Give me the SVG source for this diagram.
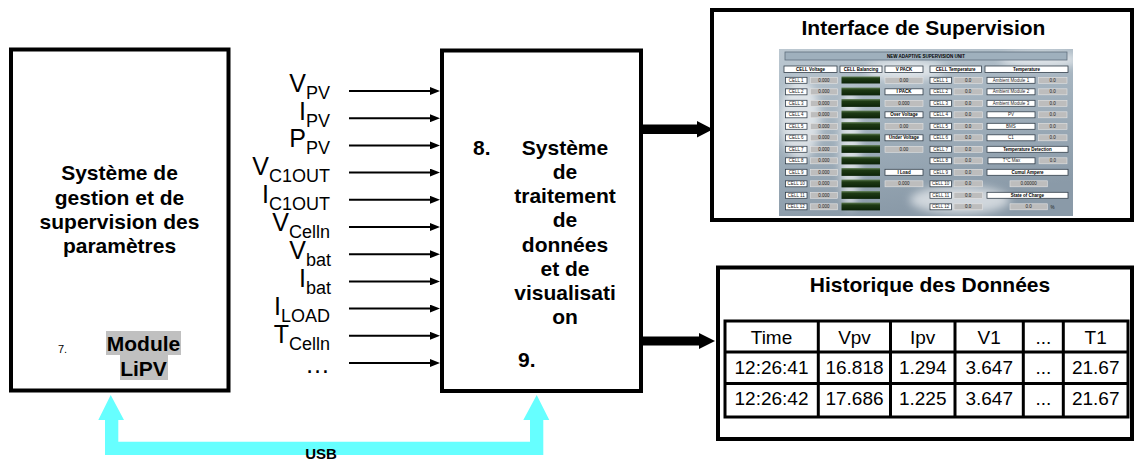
<svg xmlns="http://www.w3.org/2000/svg" width="1135" height="461" viewBox="0 0 1135 461">
<style>
text{font-family:"Liberation Sans",Arial,sans-serif;fill:#000}
.box{fill:#fff;stroke:#000;stroke-width:4}
.b21{font-weight:bold;font-size:21px;text-anchor:middle}
.lbl{font-size:25px;text-anchor:end}
.sub{font-size:18px}
.in{stroke:#000;stroke-width:2;fill:none}
.tl{stroke:#000;stroke-width:3;fill:none}
.td{font-size:19px;text-anchor:middle}
.sl{fill:#fff;stroke:#34404c;stroke-width:0.8}
.sv{fill:#bdbdbd;stroke:#e4e4e4;stroke-width:0.6}
.st{font-size:4.5px;text-anchor:middle;fill:#222}
.sb{font-size:4.5px;text-anchor:middle;font-weight:bold;fill:#000}
.bar{fill:url(#grn)}
</style>
<defs>
<marker id="ah" viewBox="0 0 10 8" refX="0" refY="4" markerWidth="10" markerHeight="8" markerUnits="userSpaceOnUse" orient="auto"><path d="M0,0 L10,4 L0,8 z" fill="#000"/></marker>
<linearGradient id="sky" x1="0" y1="0" x2="0.3" y2="1"><stop offset="0" stop-color="#bcc8d1"/><stop offset="0.5" stop-color="#a2b1bd"/><stop offset="1" stop-color="#8a9aa8"/></linearGradient>
<linearGradient id="grn" x1="0" y1="0" x2="0" y2="1"><stop offset="0" stop-color="#5c7a50"/><stop offset="0.3" stop-color="#1e3a14"/><stop offset="1" stop-color="#0c2208"/></linearGradient>
<filter id="blur" x="-50%" y="-50%" width="200%" height="200%"><feGaussianBlur stdDeviation="4"/></filter>
<clipPath id="scr"><rect x="779" y="49" width="294" height="167"/></clipPath>
</defs>

<g id="node-left">
<rect class="box" x="11" y="49.5" width="217.5" height="341"/>
<text class="b21" x="119.5" y="180">Système de</text>
<text class="b21" x="119.5" y="205">gestion et de</text>
<text class="b21" x="119.5" y="229">supervision des</text>
<text class="b21" x="119.5" y="253">paramètres</text>
<rect x="106" y="331" width="75" height="24" fill="#c0c0c0"/>
<rect x="120" y="355" width="48" height="25" fill="#c0c0c0"/>
<text class="b21" x="143.5" y="351">Module</text>
<text class="b21" x="143.5" y="376">LiPV</text>
<text x="58" y="353" font-size="11">7.</text>
</g>

<g id="node-center">
<rect class="box" x="442" y="50.5" width="199" height="340.5"/>
<text class="b21" x="473" y="155" style="text-anchor:start">8.</text>
<text class="b21" x="565" y="155">Système</text>
<text class="b21" x="565" y="179">de</text>
<text class="b21" x="565" y="203">traitement</text>
<text class="b21" x="565" y="227">de</text>
<text class="b21" x="565" y="252">données</text>
<text class="b21" x="565" y="276">et de</text>
<text class="b21" x="565" y="300">visualisati</text>
<text class="b21" x="565" y="324">on</text>
<text class="b21" x="518" y="367" style="text-anchor:start">9.</text>
</g>

<g id="node-interface">
<rect class="box" x="712" y="10" width="420" height="210"/>
<text class="b21" x="923.5" y="35">Interface de Supervision</text>
<g id="screenshot" clip-path="url(#scr)">
<rect x="779" y="49" width="294" height="167" fill="url(#sky)"/>
<g filter="url(#blur)" fill="#fff" opacity="0.6">
<ellipse cx="800" cy="120" rx="20" ry="40"/>
<ellipse cx="850" cy="150" rx="10" ry="60"/>
<ellipse cx="905" cy="70" rx="40" ry="10"/>
<ellipse cx="960" cy="200" rx="50" ry="14"/>
<ellipse cx="1040" cy="60" rx="40" ry="8"/>
</g>
<rect x="785" y="52" width="282" height="8" fill="#9fb0bd" stroke="#5f6f7d" stroke-width="0.8"/>
<text class="sb" x="926" y="58">NEW ADAPTIVE SUPERVISION UNIT</text>
<rect class="sl" x="784" y="66" width="53" height="6.5"/><text class="sb" x="810.5" y="71">CELL Voltage</text>
<rect class="sl" x="840" y="66" width="42" height="6.5"/><text class="sb" x="861" y="71">CELL Balancing</text>
<rect class="sl" x="885" y="66" width="38" height="6.5"/><text class="sb" x="904" y="71">V PACK</text>
<rect class="sl" x="930" y="66" width="51.5" height="6.5"/><text class="sb" x="955.7" y="71">CELL Temperature</text>
<rect class="sl" x="985" y="66" width="83" height="6.5"/><text class="sb" x="1026.5" y="71">Temperature</text>

<g id="cellrows">
<rect class="sl" x="785.5" y="77.3" width="21.5" height="6"/><text class="st" x="796.2" y="81.9">CELL 1</text><rect class="sv" x="810.5" y="77.3" width="27" height="6"/><text class="st" x="824" y="81.9">0.000</text><rect class="bar" x="841.5" y="76.5" width="38.5" height="7"/>
<rect class="sl" x="785.5" y="88.8" width="21.5" height="6"/><text class="st" x="796.2" y="93.4">CELL 2</text><rect class="sv" x="810.5" y="88.8" width="27" height="6"/><text class="st" x="824" y="93.4">0.000</text><rect class="bar" x="841.5" y="87.6" width="38.5" height="7.8"/>
<rect class="sl" x="785.5" y="100.3" width="21.5" height="6"/><text class="st" x="796.2" y="104.9">CELL 3</text><rect class="sv" x="810.5" y="100.3" width="27" height="6"/><text class="st" x="824" y="104.9">0.000</text><rect class="bar" x="841.5" y="99.1" width="38.5" height="7.8"/>
<rect class="sl" x="785.5" y="111.8" width="21.5" height="6"/><text class="st" x="796.2" y="116.4">CELL 4</text><rect class="sv" x="810.5" y="111.8" width="27" height="6"/><text class="st" x="824" y="116.4">0.000</text><rect class="bar" x="841.5" y="110.6" width="38.5" height="7.8"/>
<rect class="sl" x="785.5" y="123.3" width="21.5" height="6"/><text class="st" x="796.2" y="127.9">CELL 5</text><rect class="sv" x="810.5" y="123.3" width="27" height="6"/><text class="st" x="824" y="127.9">0.000</text><rect class="bar" x="841.5" y="122.1" width="38.5" height="7.8"/>
<rect class="sl" x="785.5" y="134.8" width="21.5" height="6"/><text class="st" x="796.2" y="139.4">CELL 6</text><rect class="sv" x="810.5" y="134.8" width="27" height="6"/><text class="st" x="824" y="139.4">0.000</text><rect class="bar" x="841.5" y="133.6" width="38.5" height="7.8"/>
<rect class="sl" x="785.5" y="146.3" width="21.5" height="6"/><text class="st" x="796.2" y="150.9">CELL 7</text><rect class="sv" x="810.5" y="146.3" width="27" height="6"/><text class="st" x="824" y="150.9">0.000</text><rect class="bar" x="841.5" y="145.1" width="38.5" height="7.8"/>
<rect class="sl" x="785.5" y="157.8" width="21.5" height="6"/><text class="st" x="796.2" y="162.4">CELL 8</text><rect class="sv" x="810.5" y="157.8" width="27" height="6"/><text class="st" x="824" y="162.4">0.000</text><rect class="bar" x="841.5" y="156.6" width="38.5" height="7.8"/>
<rect class="sl" x="785.5" y="169.3" width="21.5" height="6"/><text class="st" x="796.2" y="173.9">CELL 9</text><rect class="sv" x="810.5" y="169.3" width="27" height="6"/><text class="st" x="824" y="173.9">0.000</text><rect class="bar" x="841.5" y="168.1" width="38.5" height="7.8"/>
<rect class="sl" x="785.5" y="180.8" width="21.5" height="6"/><text class="st" x="796.2" y="185.4">CELL 10</text><rect class="sv" x="810.5" y="180.8" width="27" height="6"/><text class="st" x="824" y="185.4">0.000</text><rect class="bar" x="841.5" y="179.6" width="38.5" height="7.8"/>
<rect class="sl" x="785.5" y="192.3" width="21.5" height="6"/><text class="st" x="796.2" y="196.9">CELL 11</text><rect class="sv" x="810.5" y="192.3" width="27" height="6"/><text class="st" x="824" y="196.9">0.000</text><rect class="bar" x="841.5" y="191.1" width="38.5" height="7.8"/>
<rect class="sl" x="785.5" y="203.8" width="21.5" height="6"/><text class="st" x="796.2" y="208.4">CELL 12</text><rect class="sv" x="810.5" y="203.8" width="27" height="6"/><text class="st" x="824" y="208.4">0.000</text><rect class="bar" x="841.5" y="202.6" width="38.5" height="7.8"/>
</g>

<g id="vpack">
<rect class="sv" x="885" y="77.3" width="38" height="6"/><text class="st" x="904" y="81.9">0.00</text>
<rect class="sl" x="885" y="88.8" width="38" height="6"/><text class="sb" x="904" y="93.4">I PACK</text>
<rect class="sv" x="885" y="100.3" width="38" height="6"/><text class="st" x="904" y="104.9">0.000</text>
<rect class="sl" x="885" y="111.8" width="38" height="6"/><text class="sb" x="904" y="116.4">Over Voltage</text>
<rect class="sv" x="885" y="123.3" width="38" height="6"/><text class="st" x="904" y="127.9">0.00</text>
<rect class="sl" x="885" y="134.8" width="38" height="6"/><text class="sb" x="904" y="139.4">Under Voltage</text>
<rect class="sv" x="885" y="146.3" width="38" height="6"/><text class="st" x="904" y="150.9">0.00</text>
<rect class="sl" x="885" y="169.3" width="38" height="6"/><text class="sb" x="904" y="173.9">I Load</text>
<rect class="sv" x="885" y="180.8" width="38" height="6"/><text class="st" x="904" y="185.4">0.000</text>
</g>

<g id="celltemp">
<rect class="sl" x="930" y="77.3" width="21.5" height="6"/><text class="st" x="940.7" y="81.9">CELL 1</text><rect class="sv" x="954" y="77.3" width="28.5" height="6"/><text class="st" x="968.2" y="81.9">0.0</text>
<rect class="sl" x="930" y="88.8" width="21.5" height="6"/><text class="st" x="940.7" y="93.4">CELL 2</text><rect class="sv" x="954" y="88.8" width="28.5" height="6"/><text class="st" x="968.2" y="93.4">0.0</text>
<rect class="sl" x="930" y="100.3" width="21.5" height="6"/><text class="st" x="940.7" y="104.9">CELL 3</text><rect class="sv" x="954" y="100.3" width="28.5" height="6"/><text class="st" x="968.2" y="104.9">0.0</text>
<rect class="sl" x="930" y="111.8" width="21.5" height="6"/><text class="st" x="940.7" y="116.4">CELL 4</text><rect class="sv" x="954" y="111.8" width="28.5" height="6"/><text class="st" x="968.2" y="116.4">0.0</text>
<rect class="sl" x="930" y="123.3" width="21.5" height="6"/><text class="st" x="940.7" y="127.9">CELL 5</text><rect class="sv" x="954" y="123.3" width="28.5" height="6"/><text class="st" x="968.2" y="127.9">0.0</text>
<rect class="sl" x="930" y="134.8" width="21.5" height="6"/><text class="st" x="940.7" y="139.4">CELL 6</text><rect class="sv" x="954" y="134.8" width="28.5" height="6"/><text class="st" x="968.2" y="139.4">0.0</text>
<rect class="sl" x="930" y="146.3" width="21.5" height="6"/><text class="st" x="940.7" y="150.9">CELL 7</text><rect class="sv" x="954" y="146.3" width="28.5" height="6"/><text class="st" x="968.2" y="150.9">0.0</text>
<rect class="sl" x="930" y="157.8" width="21.5" height="6"/><text class="st" x="940.7" y="162.4">CELL 8</text><rect class="sv" x="954" y="157.8" width="28.5" height="6"/><text class="st" x="968.2" y="162.4">0.0</text>
<rect class="sl" x="930" y="169.3" width="21.5" height="6"/><text class="st" x="940.7" y="173.9">CELL 9</text><rect class="sv" x="954" y="169.3" width="28.5" height="6"/><text class="st" x="968.2" y="173.9">0.0</text>
<rect class="sl" x="930" y="180.8" width="21.5" height="6"/><text class="st" x="940.7" y="185.4">CELL 10</text><rect class="sv" x="954" y="180.8" width="28.5" height="6"/><text class="st" x="968.2" y="185.4">0.0</text>
<rect class="sl" x="930" y="192.3" width="21.5" height="6"/><text class="st" x="940.7" y="196.9">CELL 11</text><rect class="sv" x="954" y="192.3" width="28.5" height="6"/><text class="st" x="968.2" y="196.9">0.0</text>
<rect class="sl" x="930" y="203.8" width="21.5" height="6"/><text class="st" x="940.7" y="208.4">CELL 12</text><rect class="sv" x="954" y="203.8" width="28.5" height="6"/><text class="st" x="968.2" y="208.4">0.0</text>
</g>

<g id="temps">
<rect class="sl" x="987" y="77.3" width="48" height="6"/><text class="st" x="1011" y="81.9">Ambient Module 1</text><rect class="sv" x="1038.5" y="77.3" width="28.5" height="6"/><text class="st" x="1052.7" y="81.9">0.0</text>
<rect class="sl" x="987" y="88.8" width="48" height="6"/><text class="st" x="1011" y="93.4">Ambient Module 2</text><rect class="sv" x="1038.5" y="88.8" width="28.5" height="6"/><text class="st" x="1052.7" y="93.4">0.0</text>
<rect class="sl" x="987" y="100.3" width="48" height="6"/><text class="st" x="1011" y="104.9">Ambient Module 3</text><rect class="sv" x="1038.5" y="100.3" width="28.5" height="6"/><text class="st" x="1052.7" y="104.9">0.0</text>
<rect class="sl" x="987" y="111.8" width="48" height="6"/><text class="st" x="1011" y="116.4">PV</text><rect class="sv" x="1038.5" y="111.8" width="28.5" height="6"/><text class="st" x="1052.7" y="116.4">0.0</text>
<rect class="sl" x="987" y="123.3" width="48" height="6"/><text class="st" x="1011" y="127.9">BMS</text><rect class="sv" x="1038.5" y="123.3" width="28.5" height="6"/><text class="st" x="1052.7" y="127.9">0.0</text>
<rect class="sl" x="987" y="134.8" width="48" height="6"/><text class="st" x="1011" y="139.4">C1</text><rect class="sv" x="1038.5" y="134.8" width="28.5" height="6"/><text class="st" x="1052.7" y="139.4">0.0</text>
<rect class="sl" x="987" y="146.3" width="81" height="6"/><text class="sb" x="1027.5" y="150.9">Temperature Detection</text>
<rect class="sl" x="988" y="157.8" width="47" height="6"/><text class="st" x="1011.5" y="162.4">T°C Max</text><rect class="sv" x="1039" y="157.8" width="28" height="6"/><text class="st" x="1053" y="162.4">0.0</text>
<rect class="sl" x="987" y="169.3" width="81" height="6"/><text class="sb" x="1027.5" y="173.9">Cumul Ampere</text>
<rect class="sv" x="1010" y="180.8" width="37.3" height="6"/><text class="st" x="1028.6" y="185.4">0.00000</text>
<rect class="sl" x="987" y="192.3" width="81" height="6"/><text class="sb" x="1027.5" y="196.9">State of Charge</text>
<rect class="sv" x="1010" y="203.8" width="37.3" height="6"/><text class="st" x="1028.6" y="208.4">0.0</text>
<text class="st" x="1052.5" y="208.6">%</text>
</g>
</g>
</g>

<g id="node-historique">
<rect class="box" x="718" y="267.5" width="414" height="171.5"/>
<text class="b21" x="930" y="292">Historique des Données</text>
<rect class="tl" x="725" y="321" width="403" height="96"/>
<line class="tl" x1="725" y1="352" x2="1128" y2="352"/>
<line class="tl" x1="725" y1="383.5" x2="1128" y2="383.5"/>
<line class="tl" x1="818.3" y1="321" x2="818.3" y2="417"/>
<line class="tl" x1="890.5" y1="321" x2="890.5" y2="417"/>
<line class="tl" x1="955" y1="321" x2="955" y2="417"/>
<line class="tl" x1="1023.3" y1="321" x2="1023.3" y2="417"/>
<line class="tl" x1="1063.3" y1="321" x2="1063.3" y2="417"/>
<text class="td" x="771.5" y="344">Time</text>
<text class="td" x="854.5" y="344">Vpv</text>
<text class="td" x="922.7" y="344">Ipv</text>
<text class="td" x="989.2" y="344">V1</text>
<text class="td" x="1043.3" y="344">...</text>
<text class="td" x="1095.7" y="344">T1</text>
<text class="td" x="771.5" y="374">12:26:41</text>
<text class="td" x="854.5" y="374">16.818</text>
<text class="td" x="922.7" y="374">1.294</text>
<text class="td" x="989.2" y="374">3.647</text>
<text class="td" x="1043.3" y="374">...</text>
<text class="td" x="1095.7" y="374">21.67</text>
<text class="td" x="771.5" y="405">12:26:42</text>
<text class="td" x="854.5" y="405">17.686</text>
<text class="td" x="922.7" y="405">1.225</text>
<text class="td" x="989.2" y="405">3.647</text>
<text class="td" x="1043.3" y="405">...</text>
<text class="td" x="1095.7" y="405">21.67</text>
</g>

<g id="connectors">
<line class="in" x1="349" y1="91" x2="430" y2="91" marker-end="url(#ah)"/>
<line class="in" x1="349" y1="118.2" x2="430" y2="118.2" marker-end="url(#ah)"/>
<line class="in" x1="349" y1="145.4" x2="430" y2="145.4" marker-end="url(#ah)"/>
<line class="in" x1="349" y1="172.6" x2="430" y2="172.6" marker-end="url(#ah)"/>
<line class="in" x1="349" y1="199.8" x2="430" y2="199.8" marker-end="url(#ah)"/>
<line class="in" x1="349" y1="227" x2="430" y2="227" marker-end="url(#ah)"/>
<line class="in" x1="349" y1="254.2" x2="430" y2="254.2" marker-end="url(#ah)"/>
<line class="in" x1="349" y1="281.4" x2="430" y2="281.4" marker-end="url(#ah)"/>
<line class="in" x1="349" y1="308.6" x2="430" y2="308.6" marker-end="url(#ah)"/>
<line class="in" x1="349" y1="335.8" x2="430" y2="335.8" marker-end="url(#ah)"/>
<line class="in" x1="349" y1="363" x2="430" y2="363" marker-end="url(#ah)"/>
<g id="input-labels">
<text class="lbl" x="330" y="92">V<tspan class="sub" dy="7">PV</tspan></text>
<text class="lbl" x="330" y="119.6">I<tspan class="sub" dy="7">PV</tspan></text>
<text class="lbl" x="330" y="147.3">P<tspan class="sub" dy="7">PV</tspan></text>
<text class="lbl" x="330" y="175">V<tspan class="sub" dy="7">C1OUT</tspan></text>
<text class="lbl" x="330" y="203">I<tspan class="sub" dy="7">C1OUT</tspan></text>
<text class="lbl" x="330" y="231">V<tspan class="sub" dy="7">Celln</tspan></text>
<text class="lbl" x="331" y="259">V<tspan class="sub" dy="7">bat</tspan></text>
<text class="lbl" x="331" y="286.9">I<tspan class="sub" dy="7">bat</tspan></text>
<text class="lbl" x="330" y="314.9">I<tspan class="sub" dy="7">LOAD</tspan></text>
<text class="lbl" x="330" y="342.8">T<tspan class="sub" dy="7">Celln</tspan></text>
<text class="lbl" x="330" y="373">…</text>
</g>
<path d="M643,124.5 H697 V121 L713,129.3 L697,137.5 V134 H643 Z" fill="#000"/>
<path d="M643,336.5 H699 V333 L715,341 L699,349 V345.5 H643 Z" fill="#000"/>
<path d="M110.7,395 L124,420 L118.3,420 L118.3,441.7 L530,441.7 L530,420 L523.3,420 L536.7,395 L549.3,420 L543.3,420 L543.3,455 L105,455 L105,420 L98.3,420 Z" fill="#66ffff"/>
<text x="321" y="459" font-size="15" font-weight="bold" text-anchor="middle">USB</text>
</g>
</svg>
